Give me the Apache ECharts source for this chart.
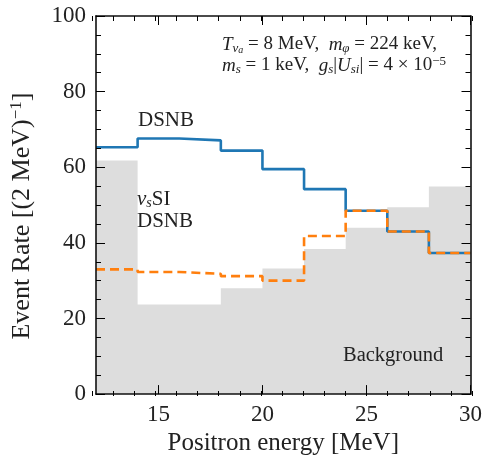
<!DOCTYPE html>
<html>
<head>
<meta charset="utf-8">
<script src="https://cdn.jsdelivr.net/npm/echarts@6/dist/echarts.min.js"></script>
<style>
html, body { margin: 0; padding: 0; background: #fff; }
#chart { width: 485px; height: 461px; }
</style>
</head>
<body>
<div id="chart"></div>
<script>
// bin edges (MeV), 2 MeV bins
var binEdges = [12, 14, 16, 18, 20, 22, 24, 26, 28, 30];
// event rate per bin
var background = [61.8, 23.7, 23.7, 28, 33.2, 38.4, 44, 49.4, 54.9];
var dsnb = [65.3, 67.6, 67.1, 64.4, 59.5, 54.2, 48.5, 43, 37.3];
var nusSI = [33, 32.3, 31.8, 31.2, 30, 41.8, 48.5, 43, 37.3];
// tick labels
var xTicks = [15, 20, 25, 30];
var yTicks = [0, 20, 40, 60, 80, 100];

var FONT = 'Liberation Serif';

// histogram as step line: one point per left edge + last right edge
function stepPoints(vals) {
    var pts = [];
    for (var i = 0; i < vals.length; i++) {
        pts.push([binEdges[i], vals[i]]);
    }
    pts.push([binEdges[vals.length], vals[vals.length - 1]]);
    return pts;
}

// fresh option objects for every axis
function axisLineOpt(show) {
    var a = { show: show, onZero: false };
    if (show) a.lineStyle = { color: '#111', width: 1.6 };
    return a;
}
function majorTickOpt(custom) {
    var t = { show: true, inside: true, length: 9, lineStyle: { color: '#000', width: 1 } };
    if (custom) t.customValues = custom;
    return t;
}
function minorTickOpt() {
    return { show: true, inside: true, length: 5, lineStyle: { color: '#000', width: 1 } };
}

var gridRect = { left: 92, right: 13, top: 16, bottom: 65 };

var myChart = echarts.init(document.getElementById('chart'));
var option = {
    animation: false,
    grid: [
        Object.assign({}, gridRect),
        Object.assign({}, gridRect)
    ],
    xAxis: [
        {
            // main bottom axis
            type: 'value', gridIndex: 0, position: 'bottom', z: 10,
            min: binEdges[0], max: binEdges[binEdges.length - 1],
            axisLine: axisLineOpt(true),
            axisTick: majorTickOpt(xTicks),
            axisLabel: { customValues: xTicks, color: '#222', fontFamily: FONT, fontSize: 23, margin: 9 },
            splitLine: { show: false },
            name: 'Positron energy [MeV]',
            nameLocation: 'middle', nameGap: 36,
            nameTextStyle: { color: '#222', fontFamily: FONT, fontSize: 25 }
        },
        {
            // mirror top axis
            type: 'value', gridIndex: 0, position: 'top', z: 10,
            min: binEdges[0], max: binEdges[binEdges.length - 1],
            axisLine: axisLineOpt(true),
            axisTick: majorTickOpt(xTicks),
            axisLabel: { show: false },
            splitLine: { show: false }
        },
        {
            // minor ticks bottom
            type: 'value', gridIndex: 1, position: 'bottom', z: 10,
            min: binEdges[0], max: binEdges[binEdges.length - 1], interval: 1,
            axisLine: axisLineOpt(false),
            axisTick: minorTickOpt(),
            axisLabel: { show: false },
            splitLine: { show: false }
        },
        {
            // minor ticks top
            type: 'value', gridIndex: 1, position: 'top', z: 10,
            min: binEdges[0], max: binEdges[binEdges.length - 1], interval: 1,
            axisLine: axisLineOpt(false),
            axisTick: minorTickOpt(),
            axisLabel: { show: false },
            splitLine: { show: false }
        }
    ],
    yAxis: [
        {
            type: 'value', gridIndex: 0, position: 'left', z: 10,
            min: yTicks[0], max: yTicks[yTicks.length - 1], interval: 20,
            axisLine: axisLineOpt(true),
            axisTick: majorTickOpt(null),
            minorTick: { show: true, splitNumber: 4, length: 5, lineStyle: { color: '#000', width: 1 } },
            axisLabel: { color: '#222', fontFamily: FONT, fontSize: 23, margin: 10 },
            splitLine: { show: false },
            minorSplitLine: { show: false },
            name: 'Event Rate [(2 MeV){sup|−1}]',
            nameLocation: 'middle', nameGap: 60, nameRotate: 90,
            nameTextStyle: {
                color: '#222', fontFamily: FONT, fontSize: 26, lineHeight: 28,
                padding: [0, 22, 0, 0],
                rich: {
                    sup: { fontFamily: FONT, fontSize: 17, color: '#222', lineHeight: 14, verticalAlign: 'top' }
                }
            }
        },
        {
            type: 'value', gridIndex: 0, position: 'right', z: 10,
            min: yTicks[0], max: yTicks[yTicks.length - 1], interval: 20,
            axisLine: axisLineOpt(true),
            axisTick: majorTickOpt(null),
            minorTick: { show: true, splitNumber: 4, length: 5, lineStyle: { color: '#000', width: 1 } },
            axisLabel: { show: false },
            splitLine: { show: false },
            minorSplitLine: { show: false }
        },
        {
            type: 'value', gridIndex: 1, min: 0, max: 100, show: false
        }
    ],
    series: [
        {
            name: 'Background', type: 'line', step: 'end',
            xAxisIndex: 0, yAxisIndex: 0,
            data: stepPoints(background),
            symbol: 'none', z: 1,
            lineStyle: { width: 0, color: '#dddddd' },
            areaStyle: { color: '#dddddd', opacity: 1 }
        },
        {
            name: 'DSNB', type: 'line', step: 'end',
            xAxisIndex: 0, yAxisIndex: 0,
            data: stepPoints(dsnb),
            symbol: 'none', z: 3,
            lineStyle: { width: 2.6, color: '#1f77b4' }
        },
        {
            name: 'nusSI DSNB', type: 'line', step: 'end',
            xAxisIndex: 0, yAxisIndex: 0,
            data: stepPoints(nusSI),
            symbol: 'none', z: 4,
            lineStyle: { width: 2.6, color: '#ff7f0e', type: [9, 5] }
        }
    ],
    graphic: [
        {
            type: 'text', left: 138, top: 110, z: 20,
            style: { text: 'DSNB', fontFamily: FONT, fontSize: 21, fill: '#222' }
        },
        {
            type: 'text', left: 137, top: 189, z: 20,
            style: {
                text: '{g|ν}{s|s}{n|SI}\n{n|DSNB}',
                fill: '#222',
                rich: {
                    g: { fontFamily: FONT, fontStyle: 'italic', fontSize: 21, lineHeight: 22, fill: '#222' },
                    s: { fontFamily: FONT, fontStyle: 'italic', fontSize: 14, lineHeight: 10, verticalAlign: 'bottom', fill: '#222' },
                    n: { fontFamily: FONT, fontSize: 21, lineHeight: 22, fill: '#222' }
                }
            }
        },
        {
            type: 'text', left: 343, top: 345, z: 20,
            style: { text: 'Background', fontFamily: FONT, fontSize: 20.5, fill: '#222' }
        },
        {
            type: 'text', right: 39, top: 35, z: 20,
            style: {
                text: '{i|T}{s|ν}{ss|a}{n| = 8 MeV,  }{i|m}{s|φ}{n| = 224 keV,}\n' +
                      '{i|m}{s|s}{n| = 1 keV,  }{i|g}{s|s}{n||}{i|U}{s|si}{n|| = 4 × 10}{p|−5}',
                align: 'right',
                fill: '#222',
                rich: {
                    n: { fontFamily: FONT, fontSize: 19, lineHeight: 21, fill: '#222' },
                    i: { fontFamily: FONT, fontStyle: 'italic', fontSize: 19, lineHeight: 21, fill: '#222' },
                    s: { fontFamily: FONT, fontStyle: 'italic', fontSize: 13, lineHeight: 10, verticalAlign: 'bottom', fill: '#222' },
                    ss: { fontFamily: FONT, fontStyle: 'italic', fontSize: 10, lineHeight: 6, verticalAlign: 'bottom', fill: '#222' },
                    p: { fontFamily: FONT, fontSize: 13, lineHeight: 10, verticalAlign: 'top', fill: '#222' }
                }
            }
        }
    ]
};
myChart.setOption(option);
window.addEventListener('resize', function () {
    myChart.resize();
});
</script>
</body>
</html>
